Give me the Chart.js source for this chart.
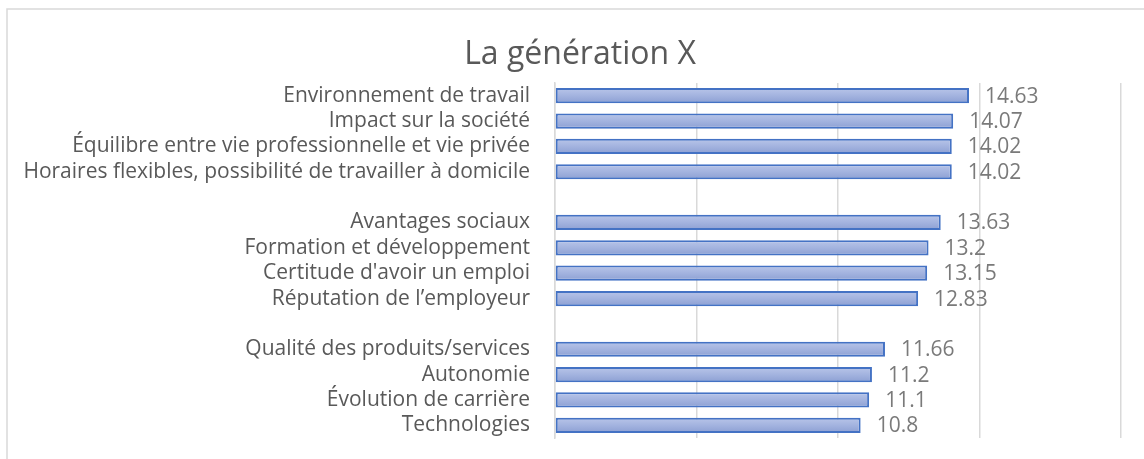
<!DOCTYPE html>
<html lang="fr">
<head>
<meta charset="utf-8">
<title>La génération X</title>
<script src="https://cdn.jsdelivr.net/npm/chart.js@4"></script>
<style>
  html, body { margin: 0; padding: 0; background: #fff; }
  #wrap { width: 1144px; height: 459px; }
</style>
</head>
<body>
<div id="wrap"><canvas id="chart" width="1144" height="459"></canvas></div>
<script>
// --------------------------
// Data
// --------------------------
const chartTitle = "La génération X";
const categories = [
  "Environnement de travail",
  "Impact sur la société",
  "Équilibre entre vie professionnelle et vie privée",
  "Horaires flexibles, possibilité de travailler à domicile",
  " ",
  "Avantages sociaux",
  "Formation et développement",
  "Certitude d'avoir un emploi",
  "Réputation de l’employeur",
  "  ",
  "Qualité des produits/services",
  "Autonomie",
  "Évolution de carrière",
  "Technologies",
];
const scores = [14.63, 14.07, 14.02, 14.02, null, 13.63, 13.2, 13.15, 12.83, null, 11.66, 11.2, 11.1, 10.8];
const xTicks = [0, 5, 10, 15, 20];

const FONT = "'Open Sans', 'DejaVu Sans', sans-serif";

// --------------------------
// Plugins
// --------------------------
// white background, light frame (cropped on the right and bottom) and the title
const framePlugin = {
  id: "frame",
  beforeDraw(chart) {
    const ctx = chart.ctx;
    ctx.save();
    ctx.fillStyle = "#fff";
    ctx.fillRect(0, 0, chart.width, chart.height);
    ctx.strokeStyle = "#d9d9d9";
    ctx.lineWidth = 1.5;
    ctx.strokeRect(7, 9, 1400, 700);

    ctx.font = "32px " + FONT;
    ctx.fillStyle = "#595959";
    ctx.textAlign = "center";
    ctx.textBaseline = "alphabetic";
    ctx.fillText(chartTitle, 580, 64);
    ctx.restore();
  },
};

// value labels to the right of each bar
const valueLabels = {
  id: "valueLabels",
  afterDatasetsDraw(chart) {
    const ctx = chart.ctx;
    const meta = chart.getDatasetMeta(0);
    ctx.save();
    ctx.font = "21px " + FONT;
    ctx.fillStyle = "#7a7a7a";
    ctx.textAlign = "left";
    ctx.textBaseline = "middle";
    meta.data.forEach((bar, i) => {
      if (scores[i] == null) return;
      ctx.fillText(String(scores[i]), bar.x + 16, bar.y + 1);
    });
    ctx.restore();
  },
};

// --------------------------
// Chart
// --------------------------
function barFill(context) {
  const chart = context.chart;
  const y = chart.scales.y;
  if (!y || context.dataIndex == null) return "#a2b2de";
  const c = y.getPixelForValue(context.dataIndex);
  if (!Number.isFinite(c)) return "#a2b2de";
  const g = chart.ctx.createLinearGradient(0, c - 7, 0, c + 7);
  g.addColorStop(0, "#b7c4e8");
  g.addColorStop(0.5, "#a3b3df");
  g.addColorStop(1, "#8ea1d4");
  return g;
}

new Chart(document.getElementById("chart"), {
  type: "bar",
  data: {
    labels: categories,
    datasets: [
      {
        label: chartTitle,
        data: scores,
        backgroundColor: barFill,
        borderColor: "#4472c4",
        borderWidth: 2,
        borderSkipped: false,
        barPercentage: 0.6,
        categoryPercentage: 1,
      },
    ],
  },
  options: {
    indexAxis: "y",
    responsive: false,
    animation: false,
    layout: { padding: { left: 15, right: 23, top: 83, bottom: 21 } },
    plugins: {
      legend: { display: false },
      tooltip: { enabled: false },
      title: { display: false },
    },
    scales: {
      x: {
        min: xTicks[0],
        max: xTicks[xTicks.length - 1],
        afterBuildTicks(axis) {
          axis.ticks = xTicks.map((v) => ({ value: v }));
        },
        afterFit(axis) {
          axis.height = 0;
        },
        ticks: { display: false },
        grid: { color: "#d9d9d9", lineWidth: 1.5, drawTicks: false },
        border: { display: false },
      },
      y: {
        afterFit(axis) {
          axis.width = 540;
          axis.paddingTop = 0;
          axis.paddingBottom = 0;
        },
        ticks: {
          color: "#595959",
          font: { family: FONT, size: 21 },
          padding: 25,
          autoSkip: false,
        },
        grid: { display: false, drawTicks: false },
        border: { color: "#d9d9d9", width: 1.5 },
      },
    },
  },
  plugins: [framePlugin, valueLabels],
});
</script>
</body>
</html>
